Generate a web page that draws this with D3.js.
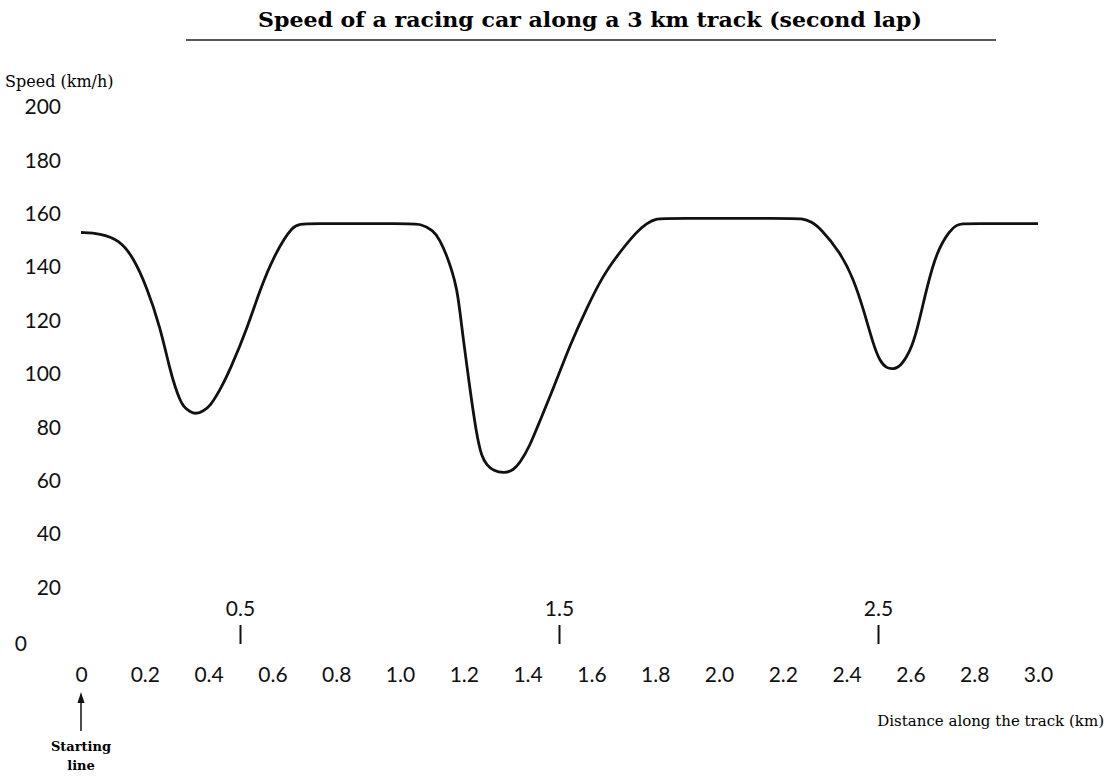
<!DOCTYPE html>
<html>
<head>
<meta charset="utf-8">
<style>
  body { margin: 0; background: #fff; }
  .tick text { font-family: Lato, "Open Sans", sans-serif; font-size: 21px; fill: #111; }
</style>
</head>
<body>
<svg width="1112" height="778"></svg>
<script src="https://d3js.org/d3.v7.min.js"></script>
<script>
// distance along track (km) and speed (km/h)
var distance = [0, 0.06, 0.12, 0.163, 0.206, 0.248, 0.279, 0.295, 0.31, 0.321, 0.342, 0.363, 0.383, 0.404, 0.436, 0.467, 0.519, 0.561, 0.603, 0.665, 0.7,
                1.03, 1.063, 1.104, 1.125, 1.146, 1.162, 1.178, 1.188, 1.198, 1.219, 1.24, 1.256, 1.272, 1.292, 1.329, 1.355, 1.376, 1.408, 1.429, 1.481, 1.533, 1.585, 1.637, 1.69, 1.742, 1.773, 1.805, 1.84,
                2.22, 2.259, 2.291, 2.317, 2.379, 2.421, 2.452, 2.484, 2.505, 2.526, 2.546, 2.567, 2.599, 2.62, 2.651, 2.682, 2.724, 2.745, 2.761, 2.8, 2.96, 3.0];
var speed = [153, 152.7, 150.2, 143.9, 132.7, 117.7, 101.5, 95.2, 90.3, 87.8, 85.7, 85, 86.2, 87.8, 94, 101.5, 116.5, 131.5, 143.9, 156.3, 156.3,
             156.3, 156.3, 153.9, 150.2, 144.6, 139, 132.1, 123.3, 113.4, 94.6, 77.2, 69, 65.9, 63.7, 62.8, 64, 66.6, 73.4, 79.7, 94.6, 110.9, 124.6, 137.1, 145.8, 153.3, 156.4, 158.3, 158.3,
             158.3, 158.3, 157, 154.6, 145.8, 135.8, 124.6, 110.9, 104.6, 102.1, 101.9, 102.5, 108.4, 115.8, 132.1, 145.8, 153.9, 155.8, 156.3, 156.3, 156.3, 156.3];
var xTicks = [0, 0.2, 0.4, 0.6, 0.8, 1.0, 1.2, 1.4, 1.6, 1.8, 2.0, 2.2, 2.4, 2.6, 2.8, 3.0];
var yTicks = [0, 20, 40, 60, 80, 100, 120, 140, 160, 180, 200];
var markers = [0.5, 1.5, 2.5];

var svg = d3.select("svg");

var x = d3.scaleLinear().domain([0, 3]).range([81, 1038]);
var y = d3.scaleLinear().domain([0, 200]).range([641, 107]);

var serif = "'DejaVu Serif', serif";

// title
svg.append("text")
    .attr("x", 590).attr("y", 27)
    .attr("text-anchor", "middle")
    .attr("font-family", serif)
    .attr("font-weight", "bold")
    .attr("font-size", 20)
    .attr("textLength", 664)
    .attr("lengthAdjust", "spacingAndGlyphs")
    .text("Speed of a racing car along a 3 km track (second lap)");
svg.append("line")
    .attr("x1", 186).attr("x2", 996).attr("y1", 40).attr("y2", 40)
    .attr("stroke", "#222").attr("stroke-width", 1.5);

// y axis
var yAxis = svg.append("g")
    .attr("transform", "translate(61,0)")
    .call(d3.axisLeft(y).tickValues(yTicks).tickSize(0).tickPadding(0).tickFormat(d3.format("d")));
yAxis.select(".domain").remove();
yAxis.selectAll(".tick text").filter(function(d) { return d === 0; }).attr("dx", -34).attr("dy", "0.45em");

svg.append("text")
    .attr("x", 5).attr("y", 87)
    .attr("font-family", serif)
    .attr("font-size", 16)
    .text("Speed (km/h)");

// x axis
var xAxis = svg.append("g")
    .attr("transform", "translate(0,667)")
    .call(d3.axisBottom(x).tickValues(xTicks).tickSize(0).tickPadding(0).tickFormat(d3.format(".1f")));
xAxis.select(".domain").remove();
xAxis.selectAll(".tick text").filter(function(d) { return d === 0; }).text("0");

svg.append("text")
    .attr("x", 1104).attr("y", 726)
    .attr("text-anchor", "end")
    .attr("font-family", serif)
    .attr("font-size", 15)
    .text("Distance along the track (km)");

// half-km markers
var mk = svg.append("g").selectAll("g").data(markers).enter().append("g")
    .attr("transform", function(d) { return "translate(" + x(d) + ",0)"; });
mk.append("line")
    .attr("y1", 625).attr("y2", 644)
    .attr("stroke", "#111").attr("stroke-width", 2);
mk.append("text")
    .attr("y", 616)
    .attr("text-anchor", "middle")
    .attr("font-family", "Lato, sans-serif")
    .attr("font-size", 21)
    .attr("fill", "#111")
    .text(function(d) { return d3.format(".1f")(d); });

// starting line arrow
svg.append("line")
    .attr("x1", x(0)).attr("x2", x(0))
    .attr("y1", 731).attr("y2", 700)
    .attr("stroke", "#111").attr("stroke-width", 1.5);
svg.append("path")
    .attr("d", "M" + x(0) + ",692l-3.5,11h7z")
    .attr("fill", "#111");
svg.append("text")
    .attr("y", 751)
    .attr("text-anchor", "middle")
    .attr("font-family", serif)
    .attr("font-weight", "bold")
    .attr("font-size", 13)
    .selectAll("tspan").data(["Starting", "line"]).enter().append("tspan")
    .attr("x", x(0))
    .attr("dy", function(d, i) { return i ? 19 : 0; })
    .text(function(d) { return d; });

// speed curve
var pts = distance.map(function(d, i) { return [d, speed[i]]; });
var line = d3.line()
    .x(function(d) { return x(d[0]); })
    .y(function(d) { return y(d[1]); })
    .curve(d3.curveBasis);
svg.append("path")
    .datum(pts)
    .attr("d", line)
    .attr("fill", "none")
    .attr("stroke", "#111")
    .attr("stroke-width", 2.8);
</script>
</body>
</html>
